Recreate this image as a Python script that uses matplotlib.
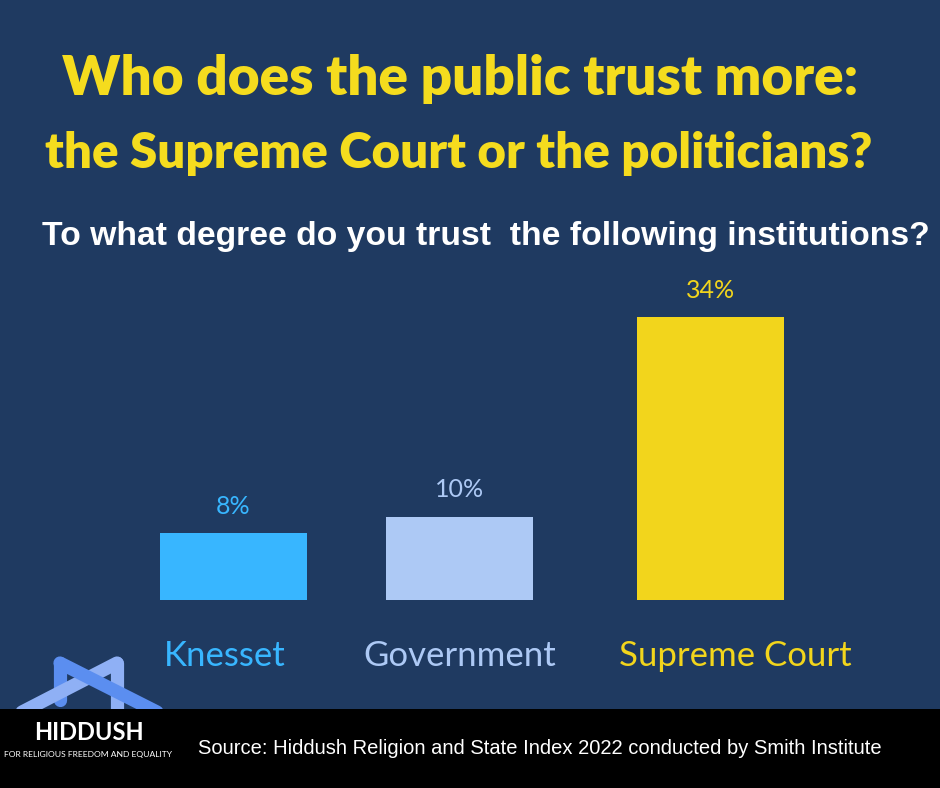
import matplotlib
matplotlib.use('Agg')
import matplotlib.pyplot as plt
from matplotlib.patches import Rectangle

# Datos
categories = ['Knesset', 'Government', 'Supreme Court']
trust = [8, 10, 34]
value_labels = ['8%', '10%', '34%']
colors = ['#38b6ff', '#adc9f5', '#f2d51c']

BG = '#1f3a61'
YELLOW = '#f5dc1e'

W, H = 940, 788
fig = plt.figure(figsize=(W / 100, H / 100), dpi=100)
fig.patch.set_facecolor(BG)

# Posiciones de las barras (espaciado como en el original)
xpos = [0, 1, 2.11]
label_dx = [-6, 0, 18]  # desplazamiento de las etiquetas (pt)

# Ejes: 1 unidad x = 226 px, 1 % = 8.33 px
ax = fig.add_axes([7.5 / W, (H - 600) / H, 904 / W, 333 / H])
ax.set_facecolor(BG)
ax.bar(xpos, trust, width=0.65, color=colors)
ax.set_xlim(-1, 3)
ax.set_ylim(0, 40)
ax.axis('off')

for x, v, lab, c in zip(xpos, trust, value_labels, colors):
    ax.annotate(lab, (x, v), xytext=(0, 11), textcoords='offset points',
                ha='center', va='bottom', color=c, fontsize=18,
                family='Lato')

for x, cat, c, dx in zip(xpos, categories, colors, label_dx):
    ax.annotate(cat, (x, 0), xytext=(dx, -40), textcoords='offset points',
                ha='center', va='center', color=c, fontsize=25,
                family='Lato')

# Titulos
fig.text(460 / W, 1 - 79 / H, 'Who does the public trust more:', ha='center',
         va='center', color=YELLOW, fontsize=39.5, fontweight='heavy',
         family='Lato')
fig.text(459 / W, 1 - 153 / H, 'the Supreme Court or the politicians?',
         ha='center', va='center', color=YELLOW, fontsize=35.5,
         fontweight='heavy', family='Lato')
fig.text(486 / W, 1 - 236 / H,
         'To what degree do you trust  the following institutions?',
         ha='center', va='center', color='white', fontsize=24.3,
         fontweight='bold', family='Liberation Sans')

# Franja inferior
fig.patches.append(Rectangle((0, 0), 1, (H - 709) / H, transform=fig.transFigure,
                             facecolor='black', edgecolor='none', zorder=1))
fig.text(540 / W, 1 - 748 / H,
         'Source: Hiddush Religion and State Index 2022 conducted by Smith Institute',
         ha='center', va='center', color='white', fontsize=14.5,
         family='Liberation Sans', zorder=3)

# Logo
def px(x, y):
    return x / W, 1 - y / H

light = '#8fb0f5'
dark = '#5b8ef0'
for (x0, y0), (x1, y1), c in [((60, 663), (60, 700), dark),
                              ((22, 712), (117, 663), light),
                              ((117, 663), (117, 712), light),
                              ((60, 663), (157, 712), dark)]:
    a, b = px(x0, y0)
    c0, d = px(x1, y1)
    fig.add_artist(plt.Line2D([a, c0], [b, d], transform=fig.transFigure,
                              color=c, lw=9.5, solid_capstyle='round', zorder=0.5))

fig.text(89 / W, 1 - 733 / H, 'HIDDUSH', ha='center', va='center',
         color='white', fontsize=17, fontweight='bold', family='Lato', zorder=3)
fig.text(88 / W, 1 - 754 / H, 'FOR RELIGIOUS FREEDOM AND EQUALITY',
         ha='center', va='center', color='white', fontsize=6.1,
         family='Lato', zorder=3)

plt.savefig('out.png', dpi=100, facecolor=BG)
